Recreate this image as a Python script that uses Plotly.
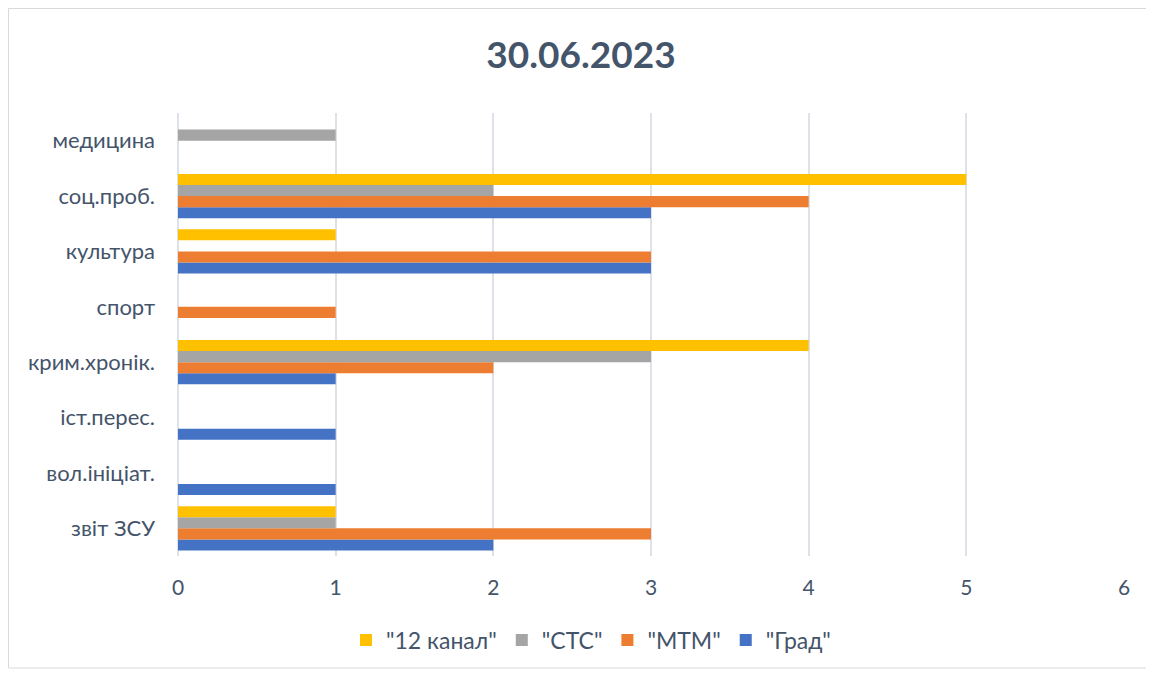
import plotly.graph_objects as go

categories = ["звіт ЗСУ", "вол.ініціат.", "іст.перес.", "крим.хронік.", "спорт", "культура", "соц.проб.", "медицина"]
grad = [2, 1, 1, 1, 0, 3, 3, 0]
mtm = [3, 0, 0, 2, 1, 3, 4, 0]
stc = [1, 0, 0, 3, 0, 0, 2, 1]
kanal12 = [1, 0, 0, 4, 0, 1, 5, 0]
series_names = ['"Град"', '"МТМ"', '"СТС"', '"12 канал"']
colors = ["#4472C4", "#ED7D31", "#A5A5A5", "#FFC000"]
x_ticks = [0, 1, 2, 3, 4, 5, 6]

text_color = "#44546A"
font_family = "Lato, 'Open Sans', sans-serif"

fig = go.Figure()
for name, vals, col in zip(series_names, [grad, mtm, stc, kanal12], colors):
    fig.add_trace(go.Bar(
        y=categories, x=vals, name=name, orientation="h",
        marker=dict(color=col, line=dict(width=0)),
    ))

# page has an 8px body margin; figure coords are offset by 8
W, H = 1146, 667
L, R, T, B = 170, 30, 105, 119
pw, ph = W - L - R, H - T - B

fig.update_layout(
    width=W, height=H,
    barmode="group", bargap=0.2, bargroupgap=0,
    plot_bgcolor="white", paper_bgcolor="white",
    margin=dict(l=L, r=R, t=T, b=B, autoexpand=False),
    font=dict(family=font_family, color=text_color, size=20),
    title=dict(text="<b>30.06.2023</b>", x=0.5, xanchor="center",
               y=1 - 47 / H, yanchor="middle",
               font=dict(size=37, color=text_color, family=font_family)),
    legend=dict(orientation="h", x=0.5 - 60 / pw, xanchor="center",
                yref="container", y=1 - 632 / H,
                yanchor="middle", traceorder="reversed",
                font=dict(size=23, color=text_color), itemwidth=30),
    xaxis=dict(range=[0, 6], tickvals=x_ticks, showgrid=True,
               gridcolor="#DDE2E9", gridwidth=1.5, zeroline=True,
               zerolinecolor="#DDE2E9", zerolinewidth=1.5,
               showline=False, ticks="", ticklabelstandoff=17, automargin=False,
               tickfont=dict(size=21, color=text_color)),
    yaxis=dict(categoryorder="array", categoryarray=categories,
               showgrid=False, showline=False, ticks="", automargin=False,
               ticklabelstandoff=22, tickfont=dict(size=22, color=text_color)),
    showlegend=True,
)

fig.add_shape(type="rect", xref="paper", yref="paper",
              x0=(0.5 - L) / pw, x1=(1139 - L) / pw,
              y0=(H - B - 660) / ph, y1=(H - B - 0.5) / ph,
              line=dict(color="#D9D9D9", width=1), fillcolor="rgba(0,0,0,0)",
              layer="below")

fig.write_html("out.html")
